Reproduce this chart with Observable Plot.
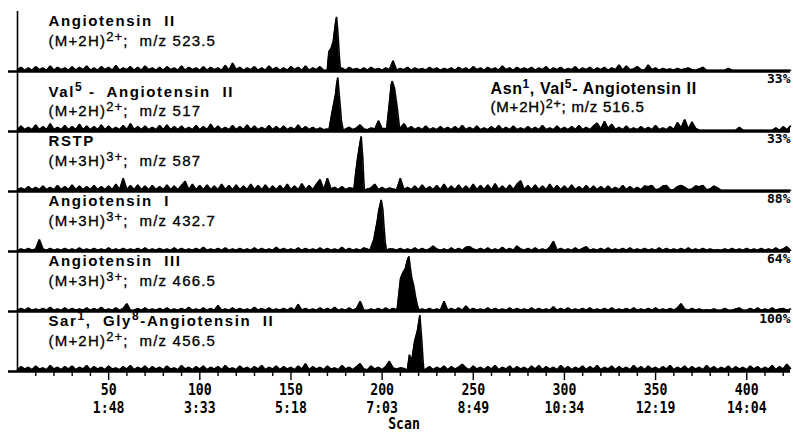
<!DOCTYPE html>
<html><head><meta charset="utf-8">
<script src="https://cdn.jsdelivr.net/npm/d3@7"></script>
<script src="https://cdn.jsdelivr.net/npm/@observablehq/plot@0.6"></script>
<style>
body{margin:0;background:#fff;}
#chart{width:793px;height:432px;overflow:hidden;}
</style></head><body><div id="chart"></div>
<script>
// ---------- data ----------
const panels = [0, 1, 2, 3, 4, 5];
const titles = ["Angiotensin  II", "Val^{5} -  Angiotensin  II", "RSTP", "Angiotensin  I", "Angiotensin  III", "Sar^{1},  Gly^{8}-Angiotensin  II"];
const ions = ["(M+2H)^{2+};  m/z 523.5", "(M+2H)^{2+};  m/z 517", "(M+3H)^{3+};  m/z 587", "(M+3H)^{3+};  m/z 432.7", "(M+3H)^{3+};  m/z 466.5", "(M+2H)^{2+};  m/z 456.5"];
const extraTitle = ["Asn^{1}, Val^{5}- Angiotensin II"];
const extraIon = ["(M+2H)^{2+}; m/z 516.5"];
const percents = ["", "33%", "33%", "88%", "64%", "100%"];
const scanTicks = [50, 100, 150, 200, 250, 300, 350, 400];
const timeLabels = ["1:48", "3:33", "5:18", "7:03", "8:49", "10:34", "12:19", "14:04"];
const minorTicks = [10,20,30,40,60,70,80,90,110,120,130,140,160,170,180,190,210,220,230,240,260,270,280,290,310,320,330,340,360,370,380,390,410,420];

// noise: one value every 2 scans, starting at scan 0 (relative intensity, %)
const noise1 = [3,7,2,6,2,8,3,6,2,9,2,7,3,6,2,8,2,7,3,9, 2,6,2,8,3,7,2,10,2,6,3,8,2,7,2,9,3,6,2,7, 2,8,3,6,2,9,2,7,3,6,2,8,2,7,3,6,2,10,2,14, 3,7,2,6,3,8,2,6,2,9,3,7,2,6,2,8,3,7,2,9, 2,6,3,8,2,7,3,9,3,6,2,7,3,5,2,6,2,7,3,5, 2,6,3,18,2,5,3,7,2,6,3,5,2,7,3,6,2,5,3,6, 2,7,3,6,2,8,3,6,2,7,3,6,2,9,3,6,2,7,3,6, 3,7,2,6,3,8,2,6,3,7,2,5,3,8,2,6,3,7,2,6, 3,7,2,6,3,11,2,9,3,4,8,3,2,11,3,6,2,5,3,4, 2,5,3,4,6,3,2,4,7,2,2,2,2,2,2,5,2,2,2,2, 2,2,2,2,2,2,2,2,2,2,2,2,2];
const noise2 = [3,9,3,7,3,11,3,8,3,13,3,7,3,10,3,8,3,12,3,9, 3,8,3,11,3,9,3,7,3,10,3,13,3,8,3,9,3,7,3,10, 3,11,3,8,3,9,3,7,3,10,3,8,3,12,3,9,3,7,3,10, 3,8,3,11,3,9,3,7,3,10,3,8,3,9,3,7,3,11,3,8, 3,7,3,6,3,4,4,4,4,4,4,7,3,6,11,4,3,6,4,18, 5,5,5,5,5,6,13,4,8,3,7,3,9,3,6,3,8,3,7,3, 8,3,10,3,7,3,9,3,6,3,8,3,10,3,7,3,9,3,6,3, 8,3,7,3,10,3,6,3,9,3,7,3,8,3,10,3,7,3,9,14, 4,17,5,12,3,7,3,9,3,6,3,8,3,7,3,10,3,6,3,8, 3,15,6,20,4,16,5,2,2,2,2,2,2,2,2,2,2,2,7,2, 2,2,2,2,2,2,2,2,6,2,8,3,9];
const noise3 = [3,6,3,8,3,7,3,9,3,7,3,10,3,8,3,11,3,9,3,8, 3,10,3,8,3,9,3,12,3,22,3,10,3,11,3,9,3,10,3,8, 3,11,3,9,3,10,17,3,12,3,10,3,11,3,9,3,12,3,10,3, 11,3,9,3,12,3,10,3,11,3,9,3,10,3,12,3,9,3,13,3, 10,3,12,20,3,22,4,7,3,8,3,6,5,5,5,5,4,6,12,3, 7,3,6,4,3,22,3,7,3,9,3,11,3,8,3,10,3,12,3,9, 3,11,3,9,3,12,3,10,3,11,3,13,3,9,3,11,3,12,18,3, 10,3,11,3,9,3,12,3,10,3,9,3,11,3,8,3,10,3,9,3, 8,3,9,3,7,3,10,3,8,3,7,3,9,8,10,3,4,9,10,3, 3,8,10,7,3,4,9,8,10,3,4,9,6,2,2,2,2,2,2,2, 2,2,2,2,2,2,2,2,2,2,2,2,2];
const noise4 = [2,4,2,5,2,4,20,4,2,5,2,4,2,5,2,4,2,6,2,4, 2,5,2,4,2,6,2,4,2,5,2,4,2,5,2,6,2,4,2,5, 2,4,2,6,2,5,2,4,2,5,2,7,2,4,2,5,2,6,2,4, 2,5,2,4,2,6,2,5,2,4,2,7,2,5,2,4,2,6,2,5, 2,4,2,6,2,5,2,4,2,7,2,5,2,4,2,6,4,4,4,4, 4,4,4,4,2,5,2,4,2,6,2,5,2,4,9,4,2,4,2,6, 2,5,2,7,8,4,2,5,2,6,2,4,2,7,2,5,2,9,4,2, 5,2,6,2,4,2,7,17,2,5,2,4,2,6,2,5,8,2,4,2, 5,2,6,2,4,2,5,2,6,2,4,2,5,2,4,2,6,2,5,2, 4,2,5,2,6,2,4,2,5,2,4,2,3,2,4,2,5,2,4,2, 5,2,4,2,5,2,4,2,6,2,4,8,2];
const noise5 = [2,5,2,6,2,4,2,5,2,7,2,4,2,6,2,5,2,4,2,6, 2,5,2,7,2,4,2,6,2,5,13,2,2,5,2,6,2,4,2,5, 2,6,2,4,2,5,2,7,2,4,2,6,2,5,2,10,2,4,2,6, 2,5,2,4,2,7,2,5,2,6,2,4,2,5,2,6,2,12,2,5, 2,4,2,6,2,5,2,7,2,4,2,6,2,5,17,2,2,4,2,5, 2,6,2,5,3,5,4,4,4,4,4,4,2,5,2,4,2,17,2,5, 2,6,2,9,2,5,2,4,2,6,2,5,2,4,2,6,2,5,2,4, 2,6,2,5,2,4,2,8,2,5,2,6,2,4,2,5,2,6,2,4, 2,5,2,6,2,4,2,5,2,6,2,4,2,5,2,6,2,4,2,5, 2,6,13,4,2,5,2,4,2,3,2,4,2,2,5,2,2,4,6,2, 2,5,2,6,2,4,2,6,2,4,5,2,4];
const noise6 = [3,8,4,7,3,9,4,6,3,10,4,7,3,8,4,9,3,7,4,10, 3,8,4,7,3,9,4,6,3,8,4,10,3,7,4,9,3,8,4,7, 3,9,4,6,3,10,4,7,3,8,4,9,3,7,4,8,3,10,4,6, 3,9,4,7,3,8,4,10,3,7,4,9,3,8,4,7,3,9,4,13, 3,8,4,7,3,9,4,6,3,10,4,7,3,8,13,4,3,9,4,7, 3,8,17,6,4,6,5,5,5,5,5,5,4,8,3,7,4,9,3,8, 4,7,12,6,3,9,4,7,3,8,4,10,3,7,4,9,3,8,4,7, 3,9,4,10,3,8,4,7,3,10,4,8,3,7,4,9,3,8,4,10, 3,7,4,9,3,8,4,7,3,10,4,8,3,9,4,7,3,8,4,10, 3,7,4,9,3,8,4,7,3,10,4,8,3,7,4,9,3,8,4,7, 3,9,4,8,3,7,4,10,3,8,4,12,5];

// chromatographic peaks: [scan, intensity %]
const peak1 = [[169.9,2],[170.8,33],[172.1,39],[173.2,50],[174.3,78],[175,91],[175.7,67],[176.6,22],[177.2,2]];
const peak2a = [[170.8,2],[172.6,33],[174.4,61],[175.1,80],[175.7,90],[176.8,50],[177.7,17],[178.7,2]];
const peak2b = [[202.4,2],[203.7,39],[205,78],[205.5,84],[206.8,72],[208.3,39],[209.7,2]];
const peak3 = [[184.5,2],[185.4,28],[186.3,50],[187.4,72],[188.5,92],[189.4,56],[189.9,20],[190.3,2]];
const peak4 = [[193.3,2],[195.4,19],[197.3,50],[198.2,69],[199.5,86],[200.4,70],[200.9,47],[201.7,15],[202.4,2]];
const peak5 = [[208.2,2],[209.2,30],[210.1,55],[211.5,65],[212.8,72],[213.8,85],[214.7,92],[215.5,72],[216.3,55],[217.2,45],[218.3,25],[219.3,11],[220.2,2]];
const peak6 = [[213.8,2],[215,28],[216.2,17],[217.8,50],[219.3,67],[220,80],[220.7,94],[221.3,70],[221.8,50],[222.4,20],[222.9,2]];

const noiseByPanel = [noise1, noise2, noise3, noise4, noise5, noise6];
const peaksByPanel = [[peak1], [peak2a, peak2b], [peak3], [peak4], [peak5], [peak6]];

// ---------- build table ----------
const points = [];
panels.forEach(p => {
  const pk = peaksByPanel[p];
  const inPeak = s => pk.some(a => s >= a[0][0] && s <= a[a.length - 1][0]);
  const rows = [];
  noiseByPanel[p].forEach((v, i) => { const s = i * 2; if (!inPeak(s)) rows.push({panel: p, scan: s, v}); });
  pk.forEach(a => a.forEach(([s, v]) => rows.push({panel: p, scan: s, v})));
  rows.sort((a, b) => a.scan - b.scan);
  points.push(...rows);
});
const labelRows = panels.map(p => ({panel: p, title: titles[p], ion: ions[p], pct: percents[p]}));
const mainRows = labelRows.filter(d => d.panel !== 1);
const secondRows = labelRows.filter(d => d.panel === 1);
const extraRows = [{panel: 1, title: extraTitle[0], ion: extraIon[0]}];
const pctRows = labelRows.filter(d => d.pct);

const sans = "'Liberation Sans', Arial, Helvetica, sans-serif";
const mono = "'DejaVu Sans Mono', 'Liberation Mono', monospace";

const chart = Plot.plot({
  width: 793, height: 432,
  marginTop: 10, marginBottom: 60, marginLeft: 17, marginRight: 3,
  x: {domain: [0, 424]},
  y: {domain: [0, 100], axis: null},
  fy: {domain: panels, axis: null, padding: 0},
  style: {fontFamily: sans, background: "white", color: "black"},
  marks: [
    Plot.areaY(points, {x: "scan", y: "v", fy: "panel", fill: "black", curve: "linear"}),
    Plot.lineY(points, {x: "scan", y: "v", fy: "panel", stroke: "black", strokeWidth: 1.6, strokeLinejoin: "miter", curve: "linear"}),
    Plot.ruleY([0], {stroke: "black", strokeWidth: 2.6, insetLeft: -9}),
    Plot.ruleX([0], {stroke: "black", strokeWidth: 1.6}),
    Plot.text(mainRows, {fy: "panel", text: "title", frameAnchor: "top-left", dx: 31, dy: 14.5, lineAnchor: "bottom", textAnchor: "start", fontSize: 15, fontWeight: "bold"}),
    Plot.text(mainRows, {fy: "panel", text: "ion", frameAnchor: "top-left", dx: 31, dy: 34, lineAnchor: "bottom", textAnchor: "start", fontSize: 15}),
    Plot.text(secondRows, {fy: "panel", text: "title", frameAnchor: "top-left", dx: 31, dy: 25.5, lineAnchor: "bottom", textAnchor: "start", fontSize: 15, fontWeight: "bold"}),
    Plot.text(secondRows, {fy: "panel", text: "ion", frameAnchor: "top-left", dx: 31, dy: 44, lineAnchor: "bottom", textAnchor: "start", fontSize: 15}),
    Plot.text(extraRows, {fy: "panel", text: "title", frameAnchor: "top-left", dx: 473, dy: 22, lineAnchor: "bottom", textAnchor: "start", fontSize: 16, fontWeight: "bold"}),
    Plot.text(extraRows, {fy: "panel", text: "ion", frameAnchor: "top-left", dx: 473, dy: 40, lineAnchor: "bottom", textAnchor: "start", fontSize: 15}),
    Plot.text(pctRows, {fy: "panel", text: "pct", frameAnchor: "top-right", dx: 0, dy: 7.5, lineAnchor: "middle", textAnchor: "end", fontSize: 13, fontWeight: "bold", fontFamily: mono}),
    Plot.axisX({ticks: minorTicks, tickSize: 5, tickFormat: () => "", strokeWidth: 1.4, label: null}),
    Plot.axisX({ticks: scanTicks, tickSize: 9, tickPadding: 2, strokeWidth: 1.4,
      tickFormat: d => `${d}\n${timeLabels[scanTicks.indexOf(d)]}`,
      fontSize: 15.5, fontFamily: mono, fontWeight: "bold", lineHeight: 1.16,
      label: "Scan", labelAnchor: "center", labelArrow: "none", labelOffset: 57})
  ]
});
document.getElementById("chart").appendChild(chart);

// ---------- superscripts & typography ----------
const svg = d3.select(chart);
function richify(node, supSize, shift) {
  const t = d3.select(node);
  const raw = node.textContent;
  if (!raw.includes("^{")) return;
  t.text(null);
  const parts = raw.split(/(\^\{[^}]*\})/);
  let raised = false;
  parts.forEach(part => {
    if (!part) return;
    if (part.startsWith("^{")) {
      t.append("tspan").attr("dy", -shift).attr("font-size", supSize).text(part.slice(2, -1));
      raised = true;
    } else {
      const ts = t.append("tspan").text(part);
      if (raised) { ts.attr("dy", shift); raised = false; }
    }
  });
}
svg.selectAll("text").each(function () {
  const s = this.textContent;
  const t = d3.select(this);
  if (extraTitle.includes(s)) {
    t.style("letter-spacing", "0.6px");
    richify(this, 12, 6);
  } else if (extraIon.includes(s)) {
    t.style("letter-spacing", "0.8px").attr("stroke", "black").attr("stroke-width", 0.35);
    richify(this, 12.5, 4);
  } else if (titles.includes(s)) {
    t.style("letter-spacing", "1.6px");
    richify(this, 12, 6);
  } else if (ions.includes(s)) {
    t.style("letter-spacing", "1.2px").attr("stroke", "black").attr("stroke-width", 0.3);
    richify(this, 13, 5);
  }
});
svg.selectAll('g[aria-label="x-axis tick label"] text, g[aria-label="x-axis label"] text').each(function () {
  const tr = this.getAttribute("transform") || "";
  this.setAttribute("transform", tr + " scale(0.85,1)");
});
</script></body></html>
